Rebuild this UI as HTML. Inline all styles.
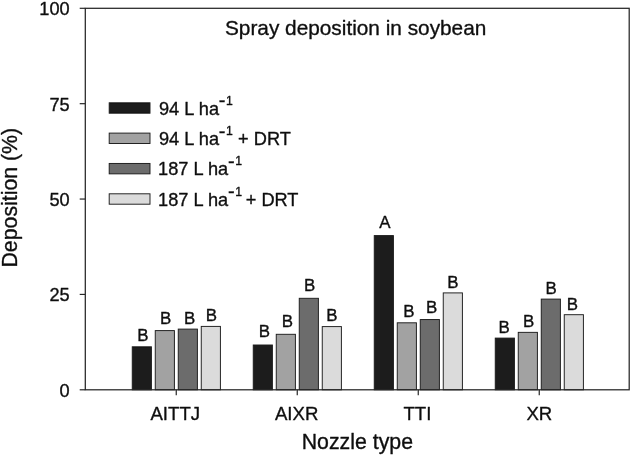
<!DOCTYPE html>
<html><head><meta charset="utf-8"><title>Spray deposition in soybean</title>
<style>html,body{margin:0;padding:0;background:#fff;overflow:hidden}svg{display:block}text{font-family:"Liberation Sans",sans-serif;fill:#111;stroke:#111;stroke-width:0.35px;stroke-linejoin:round}</style></head><body>
<svg width="633" height="456" viewBox="0 0 633 456">
<defs><filter id="soft" x="0" y="0" width="633" height="456" filterUnits="userSpaceOnUse"><feGaussianBlur stdDeviation="0.45"/></filter></defs>
<rect x="0" y="0" width="633" height="456" fill="#fff"/>
<g filter="url(#soft)">
<rect x="-5" y="-5" width="643" height="466" fill="#fff"/>
<rect x="132.25" y="346.80" width="19.15" height="43.00" fill="#1a1a1a" stroke="#1c1c1c" stroke-width="0.95"/>
<text x="142.84" y="340.80" font-size="16.9" text-anchor="middle">B</text>
<rect x="155.25" y="330.60" width="19.15" height="59.20" fill="#a2a2a2" stroke="#1c1c1c" stroke-width="0.95"/>
<text x="165.74" y="324.05" font-size="16.9" text-anchor="middle">B</text>
<rect x="178.25" y="329.10" width="19.15" height="60.70" fill="#6c6c6c" stroke="#1c1c1c" stroke-width="0.95"/>
<text x="189.54" y="323.50" font-size="16.9" text-anchor="middle">B</text>
<rect x="201.25" y="326.40" width="19.15" height="63.40" fill="#dbdbdb" stroke="#1c1c1c" stroke-width="0.95"/>
<text x="211.44" y="320.70" font-size="16.9" text-anchor="middle">B</text>
<rect x="253.25" y="345.00" width="19.15" height="44.80" fill="#1a1a1a" stroke="#1c1c1c" stroke-width="0.95"/>
<text x="264.44" y="337.40" font-size="16.9" text-anchor="middle">B</text>
<rect x="276.25" y="334.30" width="19.15" height="55.50" fill="#a2a2a2" stroke="#1c1c1c" stroke-width="0.95"/>
<text x="287.44" y="326.70" font-size="16.9" text-anchor="middle">B</text>
<rect x="299.25" y="298.30" width="19.15" height="91.50" fill="#6c6c6c" stroke="#1c1c1c" stroke-width="0.95"/>
<text x="309.54" y="290.80" font-size="16.9" text-anchor="middle">B</text>
<rect x="322.25" y="326.60" width="19.15" height="63.20" fill="#dbdbdb" stroke="#1c1c1c" stroke-width="0.95"/>
<text x="331.84" y="321.00" font-size="16.9" text-anchor="middle">B</text>
<rect x="374.25" y="235.60" width="19.15" height="154.20" fill="#1a1a1a" stroke="#1c1c1c" stroke-width="0.95"/>
<text x="384.80" y="227.50" font-size="16.9" text-anchor="middle">A</text>
<rect x="397.25" y="322.80" width="19.15" height="67.00" fill="#a2a2a2" stroke="#1c1c1c" stroke-width="0.95"/>
<text x="408.84" y="317.20" font-size="16.9" text-anchor="middle">B</text>
<rect x="420.25" y="319.55" width="19.15" height="70.25" fill="#6c6c6c" stroke="#1c1c1c" stroke-width="0.95"/>
<text x="431.64" y="312.60" font-size="16.9" text-anchor="middle">B</text>
<rect x="443.25" y="292.90" width="19.15" height="96.90" fill="#dbdbdb" stroke="#1c1c1c" stroke-width="0.95"/>
<text x="452.94" y="288.10" font-size="16.9" text-anchor="middle">B</text>
<rect x="495.25" y="338.10" width="19.15" height="51.70" fill="#1a1a1a" stroke="#1c1c1c" stroke-width="0.95"/>
<text x="504.14" y="332.90" font-size="16.9" text-anchor="middle">B</text>
<rect x="518.25" y="332.35" width="19.15" height="57.45" fill="#a2a2a2" stroke="#1c1c1c" stroke-width="0.95"/>
<text x="528.66" y="326.50" font-size="16.9" text-anchor="middle">B</text>
<rect x="541.25" y="299.10" width="19.15" height="90.70" fill="#6c6c6c" stroke="#1c1c1c" stroke-width="0.95"/>
<text x="551.06" y="293.50" font-size="16.9" text-anchor="middle">B</text>
<rect x="564.25" y="314.70" width="19.15" height="75.10" fill="#dbdbdb" stroke="#1c1c1c" stroke-width="0.95"/>
<text x="572.36" y="310.30" font-size="16.9" text-anchor="middle">B</text>
<rect x="85.3" y="8.3" width="543.90" height="381.50" fill="none" stroke="#262626" stroke-width="1.25"/>
<line x1="79.7" y1="389.80" x2="85.3" y2="389.80" stroke="#262626" stroke-width="1.2"/>
<text x="69.7" y="396.80" font-size="18.2" text-anchor="end">0</text>
<line x1="79.7" y1="294.43" x2="85.3" y2="294.43" stroke="#262626" stroke-width="1.2"/>
<text x="69.7" y="301.43" font-size="18.2" text-anchor="end">25</text>
<line x1="79.7" y1="199.05" x2="85.3" y2="199.05" stroke="#262626" stroke-width="1.2"/>
<text x="69.7" y="206.05" font-size="18.2" text-anchor="end">50</text>
<line x1="79.7" y1="103.68" x2="85.3" y2="103.68" stroke="#262626" stroke-width="1.2"/>
<text x="69.7" y="110.68" font-size="18.2" text-anchor="end">75</text>
<line x1="79.7" y1="8.30" x2="85.3" y2="8.30" stroke="#262626" stroke-width="1.2"/>
<text x="69.7" y="15.30" font-size="18.2" text-anchor="end">100</text>
<line x1="176.25" y1="389.8" x2="176.25" y2="395.2" stroke="#262626" stroke-width="1.2"/>
<text x="175.25" y="419.6" font-size="18.6" text-anchor="middle">AITTJ</text>
<line x1="297.25" y1="389.8" x2="297.25" y2="395.2" stroke="#262626" stroke-width="1.2"/>
<text x="296.65" y="419.6" font-size="18.6" text-anchor="middle">AIXR</text>
<line x1="418.25" y1="389.8" x2="418.25" y2="395.2" stroke="#262626" stroke-width="1.2"/>
<text x="417.40" y="419.6" font-size="18.6" text-anchor="middle">TTI</text>
<line x1="539.25" y1="389.8" x2="539.25" y2="395.2" stroke="#262626" stroke-width="1.2"/>
<text x="539.30" y="419.6" font-size="18.6" text-anchor="middle">XR</text>
<text x="355.65" y="35.2" font-size="20.8" text-anchor="middle">Spray deposition in soybean</text>
<text x="357.35" y="448.6" font-size="21.3" text-anchor="middle">Nozzle type</text>
<text transform="translate(17.4,197.7) rotate(-90)" font-size="21.3" text-anchor="middle">Deposition (%)</text>
<rect x="109.2" y="102.80" width="40.8" height="10.4" fill="#1a1a1a" stroke="#1c1c1c" stroke-width="0.95"/>
<text x="159.0" y="114.80" font-size="18.2">94 L ha<tspan dx="-0.2" dy="-7.4" font-size="20">-</tspan><tspan dx="0.6" dy="-2.9" font-size="12.2">1</tspan></text>
<rect x="109.2" y="133.10" width="40.8" height="10.4" fill="#a2a2a2" stroke="#1c1c1c" stroke-width="0.95"/>
<text x="159.0" y="145.10" font-size="18.2">94 L ha<tspan dx="-0.2" dy="-7.4" font-size="20">-</tspan><tspan dx="0.6" dy="-2.9" font-size="12.2">1</tspan><tspan dx="0.2" dy="10.3" font-size="18.2"> + DRT</tspan></text>
<rect x="109.2" y="163.45" width="40.8" height="10.4" fill="#6c6c6c" stroke="#1c1c1c" stroke-width="0.95"/>
<text x="158.1" y="175.45" font-size="18.2">187 L ha<tspan dx="-0.2" dy="-7.4" font-size="20">-</tspan><tspan dx="0.6" dy="-2.9" font-size="12.2">1</tspan></text>
<rect x="109.2" y="193.80" width="40.8" height="10.4" fill="#dbdbdb" stroke="#1c1c1c" stroke-width="0.95"/>
<text x="158.1" y="205.80" font-size="18.2">187 L ha<tspan dx="-0.2" dy="-7.4" font-size="20">-</tspan><tspan dx="0.6" dy="-2.9" font-size="12.2">1</tspan><tspan dx="-1.4" dy="10.3" font-size="18.2"> + DRT</tspan></text>
</g>
</svg></body></html>
